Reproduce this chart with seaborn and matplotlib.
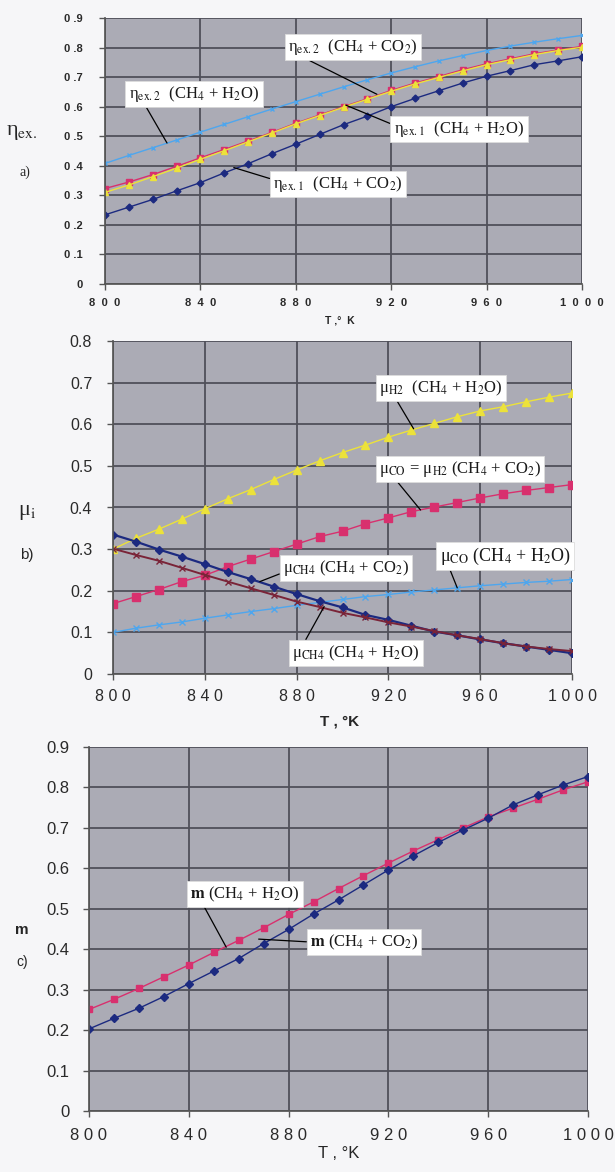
import matplotlib as mpl
import matplotlib.pyplot as plt
import seaborn as sns

# ----- data (T in K) -----
temps = list(range(800, 1001, 10))

# panel a: exergy efficiency
eta_ex2_h2o = [0.408, 0.435, 0.461, 0.487, 0.514, 0.540, 0.566, 0.592, 0.617, 0.642, 0.667,
               0.691, 0.714, 0.735, 0.755, 0.773, 0.790, 0.805, 0.818, 0.830, 0.841]
eta_ex1_h2o = [0.323, 0.345, 0.370, 0.398, 0.427, 0.455, 0.484, 0.513, 0.544, 0.572, 0.600,
               0.627, 0.655, 0.680, 0.702, 0.725, 0.745, 0.762, 0.779, 0.792, 0.804]
eta_ex2_co2 = [0.310, 0.335, 0.363, 0.392, 0.422, 0.451, 0.481, 0.511, 0.542, 0.570, 0.598,
               0.625, 0.652, 0.677, 0.699, 0.721, 0.742, 0.759, 0.776, 0.790, 0.801]
eta_ex1_co2 = [0.234, 0.260, 0.286, 0.315, 0.343, 0.376, 0.407, 0.441, 0.473, 0.506, 0.539,
               0.568, 0.600, 0.628, 0.654, 0.680, 0.703, 0.722, 0.742, 0.755, 0.769]

# panel b: mole fractions
mu_h2_h2o = [0.300, 0.326, 0.348, 0.372, 0.397, 0.421, 0.443, 0.467, 0.490, 0.512, 0.532,
             0.550, 0.569, 0.586, 0.602, 0.618, 0.632, 0.642, 0.654, 0.665, 0.675]
mu_co_co2 = [0.169, 0.186, 0.203, 0.222, 0.237, 0.258, 0.276, 0.294, 0.312, 0.330, 0.343,
             0.361, 0.375, 0.390, 0.401, 0.412, 0.423, 0.433, 0.441, 0.448, 0.455]
mu_co_h2o = [0.100, 0.110, 0.118, 0.125, 0.134, 0.142, 0.150, 0.157, 0.165, 0.172, 0.179,
             0.186, 0.191, 0.197, 0.202, 0.207, 0.212, 0.216, 0.220, 0.223, 0.227]
mu_ch4_co2 = [0.335, 0.318, 0.299, 0.282, 0.264, 0.245, 0.228, 0.210, 0.192, 0.175, 0.160,
              0.142, 0.130, 0.116, 0.102, 0.093, 0.083, 0.074, 0.066, 0.058, 0.050]
mu_ch4_h2o = [0.301, 0.286, 0.272, 0.255, 0.238, 0.222, 0.206, 0.190, 0.174, 0.161, 0.147,
              0.136, 0.124, 0.114, 0.103, 0.093, 0.084, 0.074, 0.066, 0.060, 0.055]

# panel c: conversion degree
m_h2o = [0.251, 0.276, 0.303, 0.332, 0.361, 0.392, 0.422, 0.453, 0.486, 0.517, 0.550,
         0.582, 0.613, 0.643, 0.671, 0.700, 0.727, 0.749, 0.771, 0.794, 0.814]
m_co2 = [0.203, 0.229, 0.254, 0.283, 0.315, 0.346, 0.377, 0.414, 0.449, 0.487, 0.522,
         0.559, 0.596, 0.631, 0.664, 0.695, 0.724, 0.757, 0.782, 0.806, 0.827]

x_ticks = [800, 840, 880, 920, 960, 1000]

LIGHT_BLUE = '#4ea6ee'
RED = '#d8306e'
YELLOW = '#ece23a'
NAVY = '#1c2a80'
BROWN = '#7a2438'

W, H = 615, 1172

sns.set_theme(style='whitegrid', rc={
    'axes.facecolor': '#ababb5',
    'figure.facecolor': '#f6f6f8',
    'grid.color': '#50505a',
    'grid.linewidth': 1.3,
})
mpl.rcParams['font.family'] = ['Liberation Sans', 'DejaVu Sans']
mpl.rcParams['mathtext.fontset'] = 'stix'

SERIF = ['Liberation Serif', 'DejaVu Serif']


def fx(px):
    return px / W


def fy(py):
    return 1 - py / H


def spaced(s, sep=' '):
    return sep.join(s)


fig = plt.figure(figsize=(W / 100, H / 100), dpi=100)


def make_axes(left, top, right, bottom):
    return fig.add_axes([fx(left), fy(bottom), fx(right - left), (bottom - top) / H])


def style_axes(ax, ymax, yticks, ylabels, xlabels, size, ypad, xpad, weight='normal'):
    ax.set_xlim(800, 1000)
    ax.set_ylim(0, ymax)
    ax.set_xticks(x_ticks)
    ax.set_xticklabels(xlabels, fontsize=size, color='#2a2a2a', fontweight=weight)
    ax.set_yticks(yticks)
    ax.set_yticklabels(ylabels, fontsize=size, color='#2a2a2a', fontweight=weight)
    ax.set_xlabel('')
    ax.set_ylabel('')
    for s in ax.spines.values():
        s.set_visible(False)
    for side in ('left', 'bottom'):
        ax.spines[side].set_visible(True)
        ax.spines[side].set_color('#555555')
    ax.tick_params(axis='y', length=4, width=1, color='#555555', pad=ypad, left=True)
    ax.tick_params(axis='x', length=4, width=1, color='#555555', pad=xpad, bottom=True)
    ax.grid(True)


def series(ax, y, color, marker, ms, lw=1.0):
    sns.lineplot(x=temps, y=y, ax=ax, color=color, marker=marker, markersize=ms,
                 linewidth=lw, markeredgecolor=color, markeredgewidth=1.0)


def label(ax, text, xy, center, relpos, size=12):
    ax.annotate(text, xy=xy, xycoords='data',
                xytext=(fx(center[0]), fy(center[1])), textcoords='figure fraction',
                ha='center', va='center', fontsize=size, family=SERIF, color='#1a1a1a',
                bbox=dict(boxstyle='square,pad=0.2', fc='white', ec='#dddddd', lw=0.6),
                arrowprops=dict(arrowstyle='-', color='black', lw=0.9, relpos=relpos,
                                shrinkA=0, shrinkB=0))


# ----- panel a -----
ax_a = make_axes(105, 18, 582, 284)
series(ax_a, eta_ex2_h2o, LIGHT_BLUE, 'x', 3.5)
series(ax_a, eta_ex1_h2o, RED, 's', 4.5)
series(ax_a, eta_ex2_co2, YELLOW, '^', 4)
series(ax_a, eta_ex1_co2, NAVY, 'D', 3.5)
a_yticks = [i / 10 for i in range(10)]
a_ylabels = ['0'] + [f'0 .{i}' for i in range(1, 10)]
style_axes(ax_a, 0.9, a_yticks, a_ylabels, [spaced(str(t), '  ') for t in x_ticks],
           8, 12, 6, weight='bold')
label(ax_a, r'η$_{\mathrm{ex.2}}$  (CH$_4$ + CO$_2$)', (914, 0.642), (353, 47), (0.11, 0.0))
label(ax_a, r'η$_{\mathrm{ex.2}}$  (CH$_4$ + H$_2$O)', (826, 0.477), (194, 94), (0.12, 0.0))
label(ax_a, r'η$_{\mathrm{ex.1}}$  (CH$_4$ + H$_2$O)', (901, 0.605), (459, 129), (0.0, 0.7))
label(ax_a, r'η$_{\mathrm{ex.1}}$  (CH$_4$ + CO$_2$)', (854, 0.394), (338, 184), (0.0, 0.72))
fig.text(fx(22), fy(133), r'η$_{\mathrm{ex.}}$', fontsize=16, ha='center', va='center',
         family=SERIF)
fig.text(fx(25), fy(172), 'a)', fontsize=10, ha='center', va='center', family=SERIF)
fig.text(fx(340), fy(320), 'T ,°  K', fontsize=7.5, fontweight='bold', ha='center', va='center')

# ----- panel b -----
ax_b = make_axes(113, 341, 572, 674)
series(ax_b, mu_h2_h2o, YELLOW, '^', 5.5)
series(ax_b, mu_co_co2, RED, 's', 5.5)
series(ax_b, mu_co_h2o, LIGHT_BLUE, 'x', 5)
series(ax_b, mu_ch4_co2, NAVY, 'D', 4.5, lw=1.6)
series(ax_b, mu_ch4_h2o, BROWN, 'x', 5, lw=1.4)
b_yticks = [i / 10 for i in range(9)]
b_ylabels = ['0'] + [f'0.{i}' for i in range(1, 9)]
style_axes(ax_b, 0.8, b_yticks, b_ylabels, [spaced(str(t)) for t in x_ticks], 11.5, 11, 7)
label(ax_b, r'μ$_{\mathrm{H2}}$  (CH$_4$ + H$_2$O)', (931, 0.589), (441, 388), (0.13, 0.0))
label(ax_b, r'μ$_{\mathrm{CO}}$ = μ$_{\mathrm{H2}}$ (CH$_4$ + CO$_2$)', (934, 0.394),
      (460, 469), (0.1, 0.0))
label(ax_b, r'μ$_{\mathrm{CO}}$ (CH$_4$ + H$_2$O)', (950, 0.207), (505, 556), (0.07, 0.0),
      size=13)
label(ax_b, r'μ$_{\mathrm{CH4}}$ (CH$_4$ + CO$_2$)', (864, 0.222), (346, 568), (0.0, 0.27))
label(ax_b, r'μ$_{\mathrm{CH4}}$ (CH$_4$ + H$_2$O)', (892, 0.162), (356, 653), (0.09, 1.0))
fig.text(fx(27), fy(513), r'μ$_{\mathrm{i}}$', fontsize=16, ha='center', va='center',
         family=SERIF)
fig.text(fx(27), fy(555), 'b)', fontsize=11, ha='center', va='center')
fig.text(fx(340), fy(722), 'T , °K', fontsize=11, fontweight='bold', ha='center', va='center')

# ----- panel c -----
ax_c = make_axes(89, 747, 588, 1111)
series(ax_c, m_h2o, RED, 's', 5)
series(ax_c, m_co2, NAVY, 'D', 4.5)
c_yticks = [i / 10 for i in range(10)]
c_ylabels = ['0'] + [f'0.{i}' for i in range(1, 10)]
style_axes(ax_c, 0.9, c_yticks, c_ylabels, [spaced(str(t)) for t in x_ticks], 12, 10, 8)
label(ax_c, r'$\mathbf{m}$ (CH$_4$ + H$_2$O)', (855, 0.405), (245, 894), (0.11, 0.0))
label(ax_c, r'$\mathbf{m}$ (CH$_4$ + CO$_2$)', (868, 0.425), (364, 942), (0.0, 0.5))
fig.text(fx(22), fy(930), 'm', fontsize=11, fontweight='bold', ha='center', va='center')
fig.text(fx(22), fy(962), 'c)', fontsize=10, ha='center', va='center')
fig.text(fx(339), fy(1153), 'T , °K', fontsize=12, ha='center', va='center')

fig.savefig('out.png', dpi=100)
